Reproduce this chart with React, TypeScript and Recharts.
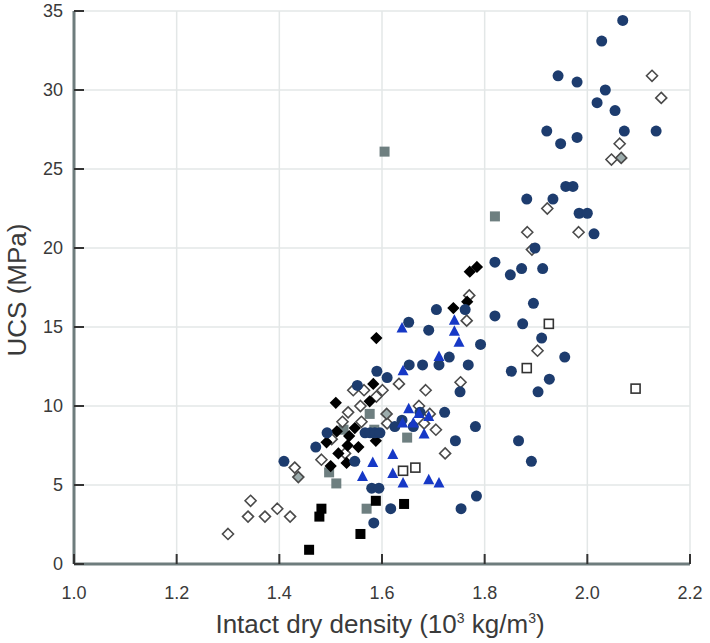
import { ScatterChart, Scatter, XAxis, YAxis, CartesianGrid, Label } from "recharts";

// [density, UCS] pairs per sample group
const navyCircles: [number, number][] = [
  [2.069, 34.4], [2.028, 33.1], [1.943, 30.9], [1.98, 30.5], [2.035, 30.0], [2.019, 29.2],
  [2.054, 28.7], [1.921, 27.4], [2.072, 27.4], [2.134, 27.4], [1.948, 26.6], [1.98, 27.0],
  [1.958, 23.9], [1.972, 23.9], [1.882, 23.1], [1.933, 23.1], [1.984, 22.2], [2.0, 22.2],
  [2.013, 20.9], [1.898, 20.0], [1.82, 19.1], [1.872, 18.7], [1.913, 18.7], [1.85, 18.3],
  [1.895, 16.5], [1.82, 15.7], [1.874, 15.2], [1.911, 14.3], [1.792, 13.9], [1.956, 13.1],
  [1.731, 13.1], [1.768, 12.6], [1.852, 12.2], [1.926, 11.7], [1.904, 10.9], [1.752, 10.9],
  [1.762, 16.1], [1.706, 16.1], [1.866, 7.8], [1.891, 6.5], [1.782, 8.7], [1.743, 7.8],
  [1.784, 4.3], [1.754, 3.5], [1.722, 9.6], [1.711, 12.6], [1.679, 12.6], [1.653, 12.6],
  [1.691, 14.8], [1.652, 15.3], [1.59, 12.2], [1.61, 11.8], [1.552, 11.3], [1.625, 8.7],
  [1.639, 9.1], [1.661, 8.7], [1.674, 9.6], [1.567, 8.3], [1.577, 8.3], [1.586, 8.3],
  [1.596, 8.3], [1.547, 6.5], [1.58, 4.8], [1.594, 4.8], [1.617, 3.5], [1.584, 2.6],
  [1.493, 8.3], [1.471, 7.4], [1.409, 6.5],
];

const blueTriangles: [number, number][] = [
  [1.639, 14.9], [1.741, 15.4], [1.741, 14.7], [1.75, 14.0], [1.711, 13.1], [1.641, 12.2],
  [1.652, 9.8], [1.672, 9.5], [1.691, 9.3], [1.64, 8.9], [1.661, 8.9], [1.682, 8.2],
  [1.621, 6.9], [1.582, 6.4], [1.562, 5.5], [1.621, 5.7], [1.641, 5.1], [1.691, 5.3],
  [1.711, 5.1],
];

const blackDiamonds: [number, number][] = [
  [1.771, 18.5], [1.785, 18.8], [1.739, 16.2], [1.766, 16.6], [1.589, 14.3], [1.583, 11.4],
  [1.576, 10.3], [1.51, 10.2], [1.588, 7.8], [1.492, 7.7], [1.512, 8.4], [1.547, 8.6],
  [1.536, 8.1], [1.533, 7.5], [1.554, 7.4], [1.515, 7.0], [1.531, 6.4], [1.5, 6.2],
];

const openDiamonds: [number, number][] = [
  [2.126, 30.9], [2.144, 29.5], [2.063, 26.6], [2.047, 25.6], [1.922, 22.5], [1.883, 21.0],
  [1.983, 21.0], [1.892, 19.9], [1.77, 17.0], [1.765, 15.4], [1.903, 13.5], [1.753, 11.5],
  [1.633, 11.4], [1.685, 11.0], [1.601, 11.0], [1.565, 11.0], [1.544, 11.0], [1.589, 10.6],
  [1.558, 10.0], [1.672, 10.0], [1.693, 9.5], [1.682, 8.9], [1.61, 8.9], [1.56, 9.0],
  [1.705, 8.5], [1.723, 7.0], [1.534, 9.6], [1.523, 9.0], [1.482, 6.6], [1.528, 7.0],
  [1.43, 6.1], [1.3, 1.9], [1.339, 3.0], [1.344, 4.0], [1.372, 3.0], [1.396, 3.5],
  [1.421, 3.0], [1.502, 7.9],
];

const grayDiamonds: [number, number][] = [[2.066, 25.7], [1.437, 5.5], [1.609, 9.5]];

const graySquares: [number, number][] = [
  [1.605, 26.1], [1.82, 22.0], [1.576, 9.5], [1.525, 8.5], [1.585, 8.5], [1.649, 8.0],
  [1.497, 5.8], [1.511, 5.1], [1.57, 3.5],
];

const blackSquares: [number, number][] = [
  [1.458, 0.9], [1.478, 3.0], [1.482, 3.5], [1.558, 1.9], [1.588, 4.0], [1.643, 3.8],
];

const openSquares: [number, number][] = [
  [1.925, 15.2], [1.882, 12.4], [2.094, 11.1], [1.641, 5.9], [1.665, 6.1],
];

const xTicks = [1.0, 1.2, 1.4, 1.6, 1.8, 2.0, 2.2];
const yTicks = [0, 5, 10, 15, 20, 25, 30, 35];

const pts = (arr: [number, number][]) => arr.map(([x, y]) => ({ x, y }));

const FONT = "'Liberation Sans', Arial, sans-serif";

const diamond = (fill: string, stroke: string, h: number) => (p: any) => (
  <path
    d={`M${p.cx},${p.cy - h}L${p.cx + h},${p.cy}L${p.cx},${p.cy + h}L${p.cx - h},${p.cy}Z`}
    fill={fill}
    stroke={stroke}
    strokeWidth={1.6}
  />
);

const square = (fill: string, stroke: string, s: number) => (p: any) => (
  <rect x={p.cx - s / 2} y={p.cy - s / 2} width={s} height={s} fill={fill} stroke={stroke} strokeWidth={1.6} />
);

const NavyDot = (p: any) => <circle cx={p.cx} cy={p.cy} r={5.5} fill="#1d3c6e" />;

const BlueTri = (p: any) => (
  <path d={`M${p.cx},${p.cy - 6.5}L${p.cx + 5.5},${p.cy + 4}L${p.cx - 5.5},${p.cy + 4}Z`} fill="#1638c6" />
);

const XTick = (p: any) => (
  <g>
    <line x1={p.x} x2={p.x} y1={p.y} y2={p.y - 10} stroke="#333" strokeWidth={2} />
    <text x={p.x} y={p.y + 35} textAnchor="middle" fontSize={18} fill="#3a3a3a" fontFamily={FONT}>
      {Number(p.payload.value).toFixed(1)}
    </text>
  </g>
);

const YTick = (p: any) => (
  <g>
    <line x1={p.x} x2={p.x + 10} y1={p.y} y2={p.y} stroke="#333" strokeWidth={2} />
    <text x={p.x - 11} y={p.y} dy="0.36em" textAnchor="end" fontSize={18} fill="#3a3a3a" fontFamily={FONT}>
      {p.payload.value}
    </text>
  </g>
);

const XTitle = (p: any) => {
  const vb = p.viewBox;
  return (
    <text x={vb.x + vb.width / 2 - 2} y={633} textAnchor="middle" fontSize={26} fill="#3a3a3a" fontFamily={FONT}>
      Intact dry density (10
      <tspan dy={-10} fontSize={14}>3</tspan>
      <tspan dy={10}> kg/m</tspan>
      <tspan dy={-10} fontSize={14}>3</tspan>
      <tspan dy={10}>)</tspan>
    </text>
  );
};

const YTitle = () => (
  <text x={26} y={290} transform="rotate(-90, 26, 290)" textAnchor="middle" fontSize={26} fill="#3a3a3a" fontFamily={FONT}>
    UCS (MPa)
  </text>
);

export default function App() {
  const axisLine = { stroke: "#6e7c7d", strokeWidth: 3 };
  return (
    <div style={{ position: "absolute", left: 0, top: 0 }}>
      <ScatterChart width={710} height={643} margin={{ top: 11, right: 20, bottom: 0, left: 0 }}>
        <CartesianGrid stroke="#e3e7e7" strokeWidth={1.5} />
        <XAxis
          type="number"
          dataKey="x"
          domain={[1.0, 2.2]}
          ticks={xTicks}
          height={79}
          axisLine={axisLine}
          tickLine={false}
          tickSize={0}
          tickMargin={0}
          tick={<XTick />}
          interval={0}
        >
          <Label content={<XTitle />} />
        </XAxis>
        <YAxis
          type="number"
          dataKey="y"
          domain={[0, 35]}
          ticks={yTicks}
          width={74}
          axisLine={axisLine}
          tickLine={false}
          tickSize={0}
          tickMargin={0}
          tick={<YTick />}
          interval={0}
        >
          <Label content={<YTitle />} />
        </YAxis>
        <Scatter data={pts(graySquares)} shape={square("#6e7f80", "none", 10)} isAnimationActive={false} />
        <Scatter data={pts(openDiamonds)} shape={diamond("#ffffff", "#4a4a4a", 5.5)} isAnimationActive={false} />
        <Scatter data={pts(grayDiamonds)} shape={diamond("#9cacac", "#4a4a4a", 5.5)} isAnimationActive={false} />
        <Scatter data={pts(blackDiamonds)} shape={diamond("#000000", "#000000", 5)} isAnimationActive={false} />
        <Scatter data={pts(navyCircles)} shape={NavyDot} isAnimationActive={false} />
        <Scatter data={pts(blueTriangles)} shape={BlueTri} isAnimationActive={false} />
        <Scatter data={pts(blackSquares)} shape={square("#000000", "none", 10)} isAnimationActive={false} />
        <Scatter data={pts(openSquares)} shape={square("#ffffff", "#333333", 9)} isAnimationActive={false} />
      </ScatterChart>
    </div>
  );
}
